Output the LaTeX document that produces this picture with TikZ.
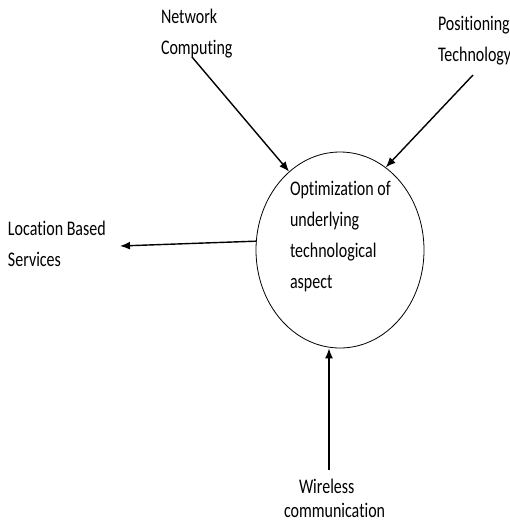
\documentclass[tikz,border=0pt]{standalone}
\usepackage{fontspec}
\setmainfont[Ligatures=NoCommon]{Carlito}
\usepackage{graphicx}
\usetikzlibrary{arrows.meta,shapes.geometric}
\newcommand\lbltext[1]{\scalebox{1}[1.3]{\fontsize{16}{24}\selectfont\begin{tabular}[t]{@{}l@{}}#1\end{tabular}}}
\begin{document}
\begin{tikzpicture}[x=1pt,y=-1pt,
  lbl/.style={anchor=base west, inner sep=0pt, outer sep=0pt},
  arr/.style={-{Latex[length=10pt,width=8pt]}, line width=1.4pt},
  bubble/.style={draw, ellipse, minimum width=168pt, minimum height=196pt, line width=0.8pt, inner sep=0pt}]
\useasboundingbox (0,0) rectangle (510,528);
\node[bubble] (opt) at (340,250) {};
\node[lbl] (opttext) at (290,195) {\lbltext{Optimization of\\underlying\\technological\\aspect}};
\node[lbl] (net) at (161,23) {\lbltext{Network\\Computing}};
\node[lbl] (pos) at (438,30) {\lbltext{Positioning\\Technology}};
\node[lbl] (lbs) at (8,235) {\lbltext{Location Based\\Services}};
\node[lbl] (wir) at (284,493) {\lbltext{\hspace{15pt}Wireless\\[-5pt]communication}};
\coordinate (netS) at (192,57);
\coordinate (posS) at (473,75);
\coordinate (lbsE) at (120,246);
\coordinate (wirS) at (329,470);
\draw[arr] (netS) -- (opt.123);
\draw[arr] (posS) -- (opt.61.5);
\draw[arr] (opt.174.6) -- (lbsE);
\draw[arr] (wirS) -- (wirS |- opt.south);
\end{tikzpicture}
\end{document}
